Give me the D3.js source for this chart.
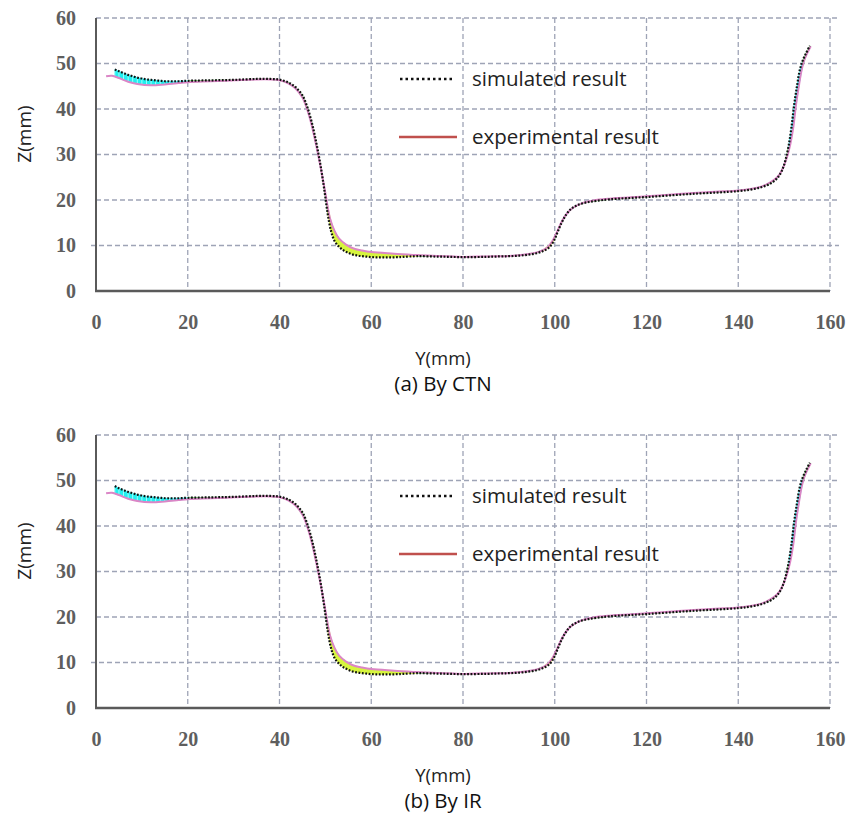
<!DOCTYPE html>
<html>
<head>
<meta charset="utf-8">
<script src="https://cdn.jsdelivr.net/npm/d3@7"></script>
<style>
  html, body { margin: 0; padding: 0; background: #fff; }
  svg { display: block; }
</style>
</head>
<body>
<svg id="chart" width="861" height="824"></svg>
<script>
// ---------------- DATA ----------------
const xTicks = [0, 20, 40, 60, 80, 100, 120, 140, 160];
const yTicks = [0, 10, 20, 30, 40, 50, 60];
const xLabel = "Y(mm)";
const yLabel = "Z(mm)";
const captions = ["(a) By CTN", "(b) By IR"];
const legendLabels = ["simulated result", "experimental result"];

// experimental profile [Y, Z] (mm)
const experimental = [
  [2.2,47.2],[3.5,47.3],[5,46.8],[7,46],[9,45.5],[12,45.2],[15,45.4],[18,45.7],[20,45.9],
  [25,46.1],[30,46.3],[35,46.5],[38,46.5],[40,46.3],[42,45.6],[43.5,44.5],[45,42.5],[46,40],
  [47,36.5],[48,32],[49,27],[50,21.5],[51,16],[52,13.2],[53,11.5],[54.5,10.2],[56,9.4],[58,8.9],
  [60,8.55],[65,8.2],[70,7.9],[75,7.7],[80,7.5],[85,7.6],[90,7.7],[94,8.1],[96.5,8.6],[98.3,9.5],
  [99.5,11],[100.5,13],[101.6,15.4],[102.8,17.2],[104,18.3],[106,19.3],[108.4,19.9],[112,20.3],
  [120,20.8],[127,21.3],[135,21.8],[140,22.1],[143,22.5],[145.2,23],[147,23.9],[148.5,25],
  [149.5,26.5],[150.5,29],[151.3,32],[152,36],[152.6,41],[153.2,45],[153.8,48.5],[154.3,50.5],
  [155,52.2],[155.8,53.8]
];

// simulated profile, CTN model [Y, Z] (mm)
const simulatedCTN = [
  [4.1,48.7],[5,48.3],[6,47.9],[7,47.5],[8,47.2],[9,46.9],[10,46.7],[11,46.5],[12,46.4],
  [13,46.3],[14,46.2],[15,46.1],[16,46.1],[17,46.1],[18,46.1],[20,46.2],[25,46.3],[30,46.4],
  [35,46.6],[38,46.6],[40,46.45],[42,45.8],[43.5,44.8],[45,43.0],[46,40.6],[47,37.2],[48,32.7],
  [49,27.3],[49.8,22],[50.5,17],[51.2,13.3],[52,11.0],[53,9.7],[54,8.9],[55,8.4],[56,8.0],
  [57,7.8],[58,7.65],[59,7.55],[60,7.45],[61,7.4],[62,7.4],[63,7.4],[64,7.4],[65,7.4],[66,7.45],
  [67,7.5],[70,7.65],[75,7.55],[80,7.45],[85,7.5],[88,7.6],[90,7.65],[92,7.75],[94,7.95],
  [96,8.3],[97.5,8.8],[98.8,9.6],[99.8,11],[100.6,12.9],[101.5,15],[102.5,16.8],[103.5,18],
  [105,18.9],[107,19.5],[109,19.8],[112,20.15],[120,20.65],[130,21.35],[140,21.95],[143,22.35],
  [145,22.8],[147,23.6],[148.5,24.8],[149.5,26.4],[150.3,28.8],[151,32],[151.6,36],[152.2,41],
  [152.8,45],[153.4,48.5],[154,50.5],[154.8,52.3],[155.6,53.9]
];

// simulated profile, IR model [Y, Z] (mm)
const simulatedIR = [
  [4.1,48.8],[5,48.3],[6,47.9],[7,47.5],[8,47.2],[9,46.9],[10,46.7],[11,46.5],[12,46.4],
  [13,46.3],[14,46.2],[15,46.1],[16,46.1],[17,46.1],[18,46.1],[20,46.2],[25,46.3],[30,46.4],
  [35,46.6],[38,46.6],[40,46.45],[42,45.8],[43.5,44.8],[45,43.0],[46,40.6],[47,37.2],[48,32.7],
  [49,27.3],[49.8,22],[50.5,17],[51.2,13.3],[52,11.0],[53,9.7],[54,8.9],[55,8.4],[56,8.0],
  [57,7.8],[58,7.65],[59,7.55],[60,7.45],[61,7.4],[62,7.4],[63,7.4],[64,7.4],[65,7.4],[66,7.45],
  [67,7.5],[70,7.65],[75,7.55],[80,7.45],[85,7.5],[88,7.6],[90,7.65],[92,7.75],[94,7.95],
  [96,8.3],[97.5,8.8],[98.8,9.6],[99.8,11],[100.6,12.9],[101.5,15],[102.5,16.8],[103.5,18],
  [105,18.9],[107,19.5],[109,19.8],[112,20.15],[120,20.65],[130,21.35],[140,21.95],[143,22.35],
  [145,22.8],[147,23.6],[148.5,24.8],[149.5,26.4],[150.3,28.8],[151,32],[151.6,36],[152.2,41],
  [152.8,45],[153.4,48.5],[154,50.5],[154.8,52.3],[155.6,53.9]
];

// ---------------- DRAW ----------------
const svg = d3.select("#chart");
const tickFont = "'Liberation Serif', 'Times New Roman', serif";
const textFont = "'Open Sans', 'Noto Sans', sans-serif";
const gridColor = "#9ea4b6";
const expColor = "#db86c6";

function interpExp(xv) {
  const bis = d3.bisector(d => d[0]).left;
  let i = bis(experimental, xv);
  if (i <= 0) return experimental[0][1];
  if (i >= experimental.length) return experimental[experimental.length - 1][1];
  const a = experimental[i - 1], b = experimental[i];
  const t = (xv - a[0]) / (b[0] - a[0]);
  return a[1] + t * (b[1] - a[1]);
}

function drawPanel(top, simulated, caption) {
  const x = d3.scaleLinear().domain([0, 160]).range([96, 830]);
  const y = d3.scaleLinear().domain([0, 60]).range([top + 273, top]);
  const g = svg.append("g");

  // grid
  g.append("g").selectAll("line").data(yTicks.filter(d => d > 0)).join("line")
    .attr("x1", d => d === 10 ? x(0) - 5 : x(0)).attr("x2", x(160) + 9)
    .attr("y1", d => y(d)).attr("y2", d => y(d))
    .attr("stroke", gridColor).attr("stroke-width", 1.3).attr("stroke-dasharray", "5,3");
  g.append("g").selectAll("line").data(xTicks.filter(d => d > 0)).join("line")
    .attr("x1", d => x(d)).attr("x2", d => x(d))
    .attr("y1", y(60)).attr("y2", y(0))
    .attr("stroke", gridColor).attr("stroke-width", 1.3).attr("stroke-dasharray", "5,3");

  // deviation fill between simulated and experimental curves
  const thr = 1.4; // px
  const quads = [];
  for (let i = 0; i < simulated.length - 1; i++) {
    const s0 = simulated[i], s1 = simulated[i + 1];
    const e0 = interpExp(s0[0]), e1 = interpExp(s1[0]);
    const mx = (s0[0] + s1[0]) / 2;
    const dyPx = (y((e0 + e1) / 2) - y((s0[1] + s1[1]) / 2)); // >0 when sim above
    const slopePx = (y(interpExp(mx + 0.5)) - y(interpExp(mx - 0.5))) / (x(mx + 0.5) - x(mx - 0.5));
    const dev = dyPx / Math.sqrt(1 + slopePx * slopePx);
    let color = "#3fd43f";
    if (dev > thr) color = "#22f0f0";
    else if (dev < -thr) color = "#d6f53c";
    quads.push({pts: [[x(s0[0]), y(s0[1])], [x(s1[0]), y(s1[1])], [x(s1[0]), y(e1)], [x(s0[0]), y(e0)]], color, dev});
  }
  g.append("g").selectAll("path").data(quads).join("path")
    .attr("d", d => "M" + d.pts.map(p => p.join(",")).join("L") + "Z")
    .attr("fill", d => d.color)
    .attr("stroke", d => d.color).attr("stroke-width", 0.6);
  // hatch strokes for cyan zone
  g.append("g").selectAll("line").data(quads.filter(q => q.dev > thr)).join("line")
    .attr("x1", d => d.pts[0][0]).attr("x2", d => d.pts[3][0])
    .attr("y1", d => d.pts[0][1]).attr("y2", d => d.pts[3][1])
    .attr("stroke", "#bff") .attr("stroke-width", 0.8);

  const line = d3.line().x(d => x(d[0])).y(d => y(d[1])).curve(d3.curveCatmullRom.alpha(0.5));

  // experimental
  g.append("path").datum(experimental).attr("d", line)
    .attr("fill", "none").attr("stroke", expColor).attr("stroke-width", 2);

  // simulated (dotted)
  g.append("path").datum(simulated).attr("d", line)
    .attr("fill", "none").attr("stroke", "#111").attr("stroke-width", 2.2)
    .attr("stroke-dasharray", "1.8,1.6");

  // axes lines
  g.append("line").attr("x1", x(0)).attr("x2", x(0)).attr("y1", y(60)).attr("y2", y(0) + 1)
    .attr("stroke", "#5a5a5a").attr("stroke-width", 2);
  g.append("line").attr("x1", x(0) - 1).attr("x2", x(160)).attr("y1", y(0)).attr("y2", y(0))
    .attr("stroke", "#5a5a5a").attr("stroke-width", 2.5);

  // tick labels via axes
  const ax = g.append("g").attr("transform", `translate(0,${y(0)})`)
    .call(d3.axisBottom(x).tickValues(xTicks).tickSize(0).tickPadding(24).tickFormat(d3.format("d")));
  const ay = g.append("g").attr("transform", `translate(${x(0)},0)`)
    .call(d3.axisLeft(y).tickValues(yTicks).tickSize(0).tickPadding(20).tickFormat(d3.format("d")));
  [ax, ay].forEach(a => {
    a.select(".domain").remove();
    a.selectAll("text").attr("font-family", tickFont).attr("font-weight", "bold")
      .attr("font-size", 20).attr("fill", "#5e5e5e");
  });

  // axis titles
  g.append("text").attr("x", 443).attr("y", y(0) + 74).attr("text-anchor", "middle")
    .attr("font-family", textFont).attr("font-size", 18.5).attr("fill", "#222").text(xLabel);
  g.append("text").attr("transform", `translate(31,${top + 116}) rotate(-90)`).attr("text-anchor", "middle")
    .attr("font-family", textFont).attr("font-size", 19).attr("fill", "#222").text(yLabel);
  g.append("text").attr("x", 443).attr("y", y(0) + 100).attr("text-anchor", "middle")
    .attr("font-family", textFont).attr("font-size", 20.5).attr("fill", "#111").text(caption);

  // legend
  const ly1 = top + 61, ly2 = top + 119;
  g.append("line").attr("x1", 400).attr("x2", 455).attr("y1", ly1).attr("y2", ly1)
    .attr("stroke", "#111").attr("stroke-width", 2.5).attr("stroke-dasharray", "2.5,3");
  g.append("line").attr("x1", 399).attr("x2", 457).attr("y1", ly2).attr("y2", ly2)
    .attr("stroke", "#c0504d").attr("stroke-width", 2.5);
  g.append("text").attr("x", 472).attr("y", ly1).attr("dy", "0.35em")
    .attr("font-family", textFont).attr("font-size", 20.5).attr("fill", "#222").text(legendLabels[0]);
  g.append("text").attr("x", 472).attr("y", ly2).attr("dy", "0.35em")
    .attr("font-family", textFont).attr("font-size", 20.5).attr("fill", "#222").text(legendLabels[1]);
}

drawPanel(18, simulatedCTN, captions[0]);
drawPanel(435, simulatedIR, captions[1]);
</script>
</body>
</html>
